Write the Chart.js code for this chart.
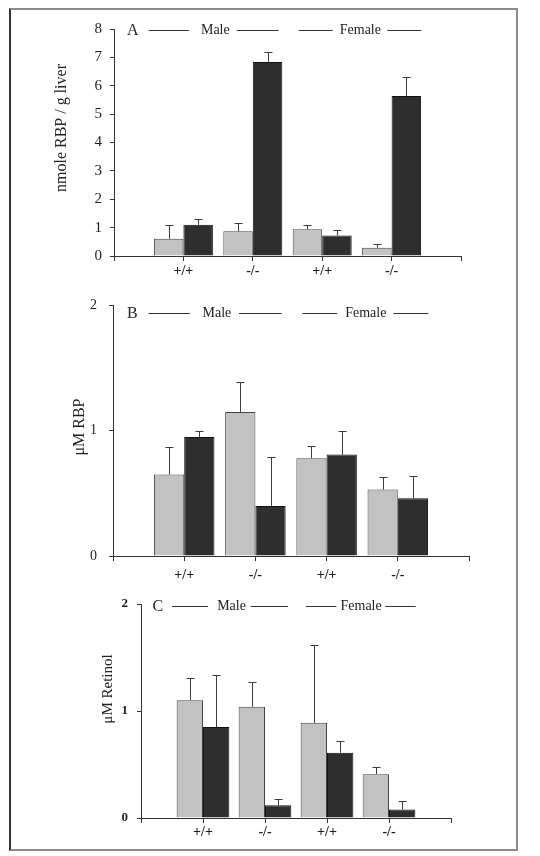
<!DOCTYPE html>
<html>
<head>
<meta charset="utf-8">
<script src="https://cdn.jsdelivr.net/npm/chart.js@4.4.0/dist/chart.umd.min.js"></script>
<style>
  body { margin: 0; background: #fff; }
  #page { position: relative; width: 540px; height: 856px; }
  #frame { position: absolute; left: 9px; top: 8px; width: 505px; height: 839px;
           border: 2px solid #8c8c8c; border-left-color: #333; }
  canvas { position: absolute; left: 0; }
</style>
</head>
<body>
<div id="page">
  <div id="frame"></div>
  <canvas id="panelA" width="540" height="285" style="top:0px"></canvas>
  <canvas id="panelB" width="540" height="300" style="top:285px"></canvas>
  <canvas id="panelC" width="540" height="271" style="top:585px"></canvas>
</div>
<script>
// genotype groups (first and last slots are empty, as on the original axis)
const groupLabels = ['', '+/+', '-/-', '+/+', '-/-', ''];

// A: liver RBP (nmole / g liver)
const liverLight    = [null, 0.61, 0.87, 0.94, 0.29, null];
const liverLightErr = [null, 1.10, 1.17, 1.08, 0.42, null];
const liverDark     = [null, 1.10, 6.84, 0.72, 5.64, null];
const liverDarkErr  = [null, 1.32, 7.20, 0.92, 6.31, null];

// B: serum RBP (uM)
const rbpLight    = [null, 0.65, 1.15, 0.78, 0.53, null];
const rbpLightErr = [null, 0.87, 1.39, 0.88, 0.63, null];
const rbpDark     = [null, 0.95, 0.40, 0.81, 0.46, null];
const rbpDarkErr  = [null, 1.00, 0.79, 1.00, 0.64, null];

// C: serum retinol (uM)
const retinolLight    = [null, 1.10, 1.04, 0.89, 0.41, null];
const retinolLightErr = [null, 1.31, 1.27, 1.62, 0.48, null];
const retinolDark     = [null, 0.85, 0.12, 0.61, 0.08, null];
const retinolDarkErr  = [null, 1.34, 0.18, 0.72, 0.16, null];

const serif = '"Liberation Serif", "DejaVu Serif", serif';
const lightFill = '#c2c2c2';
const darkFill = '#2e2e2e';

// header: "A ——— Male ——— ——— Female ———", positions in category units
const headerRules = [[0.5, 1.08], [1.77, 2.37], [2.66, 3.15], [3.94, 4.43]];
const headerWords = [['Male', 1.46], ['Female', 3.55]];

const panelDecor = {
    id: 'panelDecor',
    afterDatasetsDraw(chart, args, opts) {
        const ctx = chart.ctx;
        const xs = chart.scales.x;
        const ys = chart.scales.y;
        ctx.save();

        // upper error whiskers
        ctx.strokeStyle = '#3a3a3a';
        ctx.lineWidth = 1;
        opts.errors.forEach((errs, di) => {
            chart.getDatasetMeta(di).data.forEach((bar, j) => {
                if (errs[j] == null) return;
                const x = Math.round(bar.x) + 0.5;
                const yE = Math.round(ys.getPixelForValue(errs[j])) + 0.5;
                ctx.beginPath();
                ctx.moveTo(x, bar.y);
                ctx.lineTo(x, yE);
                ctx.moveTo(x - 4, yE);
                ctx.lineTo(x + 4, yE);
                ctx.stroke();
            });
        });

        // panel header
        const hy = ys.getPixelForValue(opts.headerY);
        ctx.fillStyle = '#222';
        ctx.textBaseline = 'middle';
        ctx.textAlign = 'center';
        ctx.font = '16px ' + serif;
        ctx.fillText(opts.letter, xs.getPixelForValue(0.27), hy + 1);
        ctx.font = '14px ' + serif;
        headerWords.forEach(([w, at]) => ctx.fillText(w, xs.getPixelForValue(at), hy));
        ctx.strokeStyle = '#333';
        headerRules.forEach(([a, b]) => {
            ctx.beginPath();
            ctx.moveTo(xs.getPixelForValue(a), Math.round(hy) + 0.5);
            ctx.lineTo(xs.getPixelForValue(b), Math.round(hy) + 0.5);
            ctx.stroke();
        });

        // y axis title
        ctx.translate(opts.titleX, opts.titleY);
        ctx.rotate(-Math.PI / 2);
        ctx.font = opts.titleSize + 'px ' + serif;
        ctx.fillText(opts.yTitle, 0, 0);
        ctx.restore();
    }
};

function buildPanel(p) {
    const canvas = document.getElementById(p.id);
    const h = canvas.height;
    return new Chart(canvas.getContext('2d'), {
        type: 'bar',
        data: {
            labels: groupLabels,
            datasets: [
                { data: p.light, backgroundColor: lightFill, borderColor: '#444', borderWidth: 1 },
                { data: p.dark, backgroundColor: darkFill, borderColor: '#111', borderWidth: 1 }
            ]
        },
        options: {
            responsive: false,
            animation: false,
            devicePixelRatio: 1,
            categoryPercentage: 0.85,
            barPercentage: 1.0,
            layout: { padding: { left: 0, right: 540 - p.area.right, top: p.area.top, bottom: 0 } },
            plugins: {
                legend: { display: false },
                tooltip: { enabled: false },
                panelDecor: {
                    errors: [p.lightErr, p.darkErr],
                    letter: p.letter,
                    headerY: p.headerY,
                    yTitle: p.yTitle,
                    titleX: p.titleX,
                    titleY: p.titleY,
                    titleSize: p.titleSize
                }
            },
            scales: {
                x: {
                    offset: false,
                    grid: { offset: false, drawOnChartArea: false, tickLength: 5, color: '#333' },
                    border: { color: '#333' },
                    ticks: {
                        autoSkip: false, maxRotation: 0, padding: p.xPad, color: '#1e1e1e',
                        font: { family: serif, size: 14, weight: 'bold' }
                    },
                    afterFit: (s) => { s.height = h - p.area.bottom; }
                },
                y: {
                    min: 0,
                    max: p.yMax,
                    grid: { drawOnChartArea: false, tickLength: 4, color: '#333' },
                    border: { color: '#333' },
                    ticks: {
                        stepSize: 1, padding: p.yPad, color: '#1e1e1e',
                        font: { family: serif, size: p.tickSize, weight: p.tickWeight }
                    },
                    afterFit: (s) => { s.width = p.area.left; }
                }
            }
        },
        plugins: [panelDecor]
    });
}

buildPanel({
    id: 'panelA', letter: 'A', yTitle: 'nmole RBP / g liver', yMax: 8,
    light: liverLight, lightErr: liverLightErr, dark: liverDark, darkErr: liverDarkErr,
    area: { left: 114, right: 461, top: 29, bottom: 256 },
    headerY: 7.97, titleX: 62, titleY: 128, titleSize: 16,
    tickSize: 15, tickWeight: 'normal', yPad: 8, xPad: 2
});

buildPanel({
    id: 'panelB', letter: 'B', yTitle: 'μM RBP', yMax: 2,
    light: rbpLight, lightErr: rbpLightErr, dark: rbpDark, darkErr: rbpDarkErr,
    area: { left: 113, right: 469, top: 19, bottom: 271 },
    headerY: 1.94, titleX: 80, titleY: 142, titleSize: 16,
    tickSize: 14, tickWeight: 'normal', yPad: 12, xPad: 6
});

buildPanel({
    id: 'panelC', letter: 'C', yTitle: 'μM Retinol', yMax: 2,
    light: retinolLight, lightErr: retinolLightErr, dark: retinolDark, darkErr: retinolDarkErr,
    area: { left: 141, right: 451, top: 19, bottom: 233 },
    headerY: 1.98, titleX: 108, titleY: 104, titleSize: 15,
    tickSize: 13, tickWeight: 'bold', yPad: 9, xPad: 1
});
</script>
</body>
</html>
